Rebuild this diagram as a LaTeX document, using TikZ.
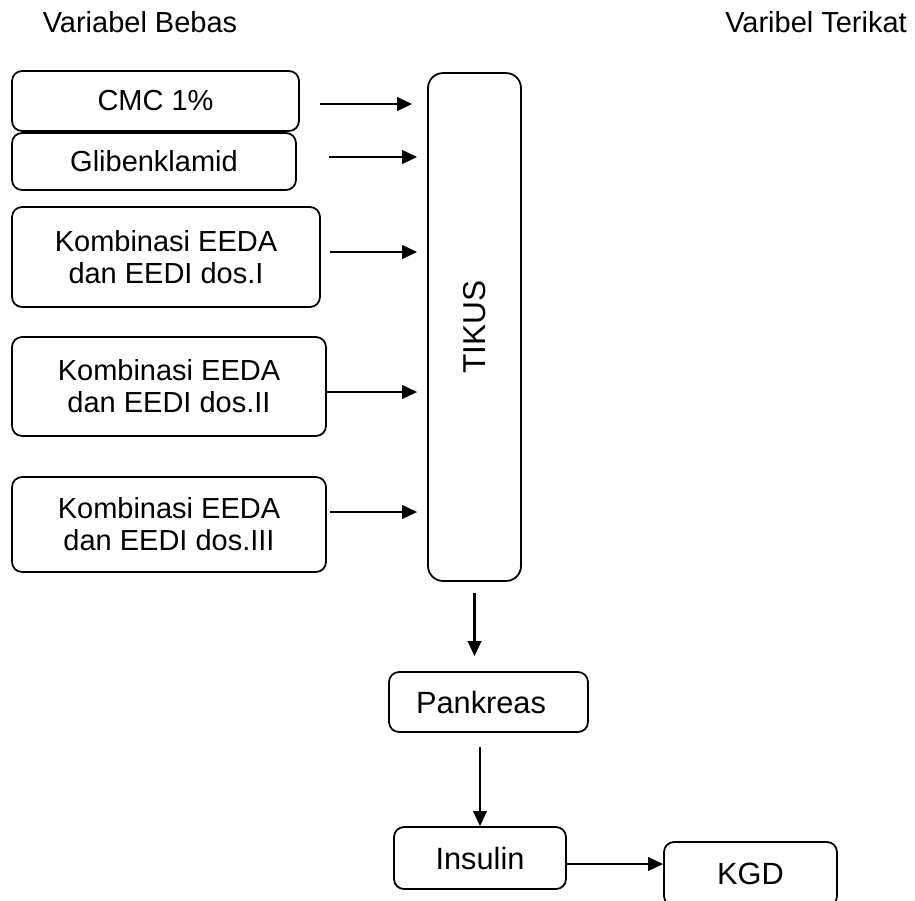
\documentclass[tikz,border=0pt]{standalone}
\usepackage{fontspec}
\setmainfont{Liberation Sans}
\usetikzlibrary{arrows.meta}
\tikzset{
 txt/.style={inner sep=0pt,font=\fontsize{16.5}{18.2}\selectfont},
 box/.style={draw,rounded corners=0.2cm,line width=1pt,align=center,inner sep=0pt,font=\fontsize{16.5}{18.2}\selectfont},
 bigbox/.style={box,font=\fontsize{17.5}{20}\selectfont},
 arr/.style={-{Triangle[length=0.3cm,width=0.27cm]},line width=1.2pt}
}
\begin{document}
\begin{tikzpicture}[x=0.02cm,y=-0.02cm]
 \clip (0,0) rectangle (915,900);
 % headers
 \node[txt] (bebas) at (140,22) {Variabel Bebas};
 \node[txt] (terikat) at (816,22) {Varibel Terikat};
 % treatment groups
 \node[box,minimum width=5.74cm,minimum height=1.2cm] (cmc) at (155.5,101) {CMC 1\%};
 \node[box,minimum width=5.68cm,minimum height=1.14cm] (glib) at (154,161.5) {Glibenklamid};
 \node[box,minimum width=6.16cm,minimum height=2cm] (dosI) at (166,257) {Kombinasi EEDA\\dan EEDI dos.I};
 \node[box,minimum width=6.28cm,minimum height=1.98cm] (dosII) at (169,386.5) {Kombinasi EEDA\\dan EEDI dos.II};
 \node[box,minimum width=6.28cm,minimum height=1.9cm] (dosIII) at (169,524.5) {Kombinasi EEDA\\dan EEDI dos.III};
 \node[box,rounded corners=0.3cm,minimum width=1.86cm,minimum height=10.16cm,font=\fontsize{18}{20}\selectfont] (tikus) at (474.5,327) {\rotatebox{90}{TIKUS}};
 % outcome chain
 \node[bigbox,minimum width=3.98cm,minimum height=1.2cm,text width=3.7cm] (pankreas) at (488.5,702) {\hspace*{-0.3cm}Pankreas};
 \node[bigbox,minimum width=3.44cm,minimum height=1.24cm] (insulin) at (480,858) {Insulin};
 \node[bigbox,minimum width=3.46cm,minimum height=1.28cm] (kgd) at (750.5,874) {KGD};
 % arrows into TIKUS
 \coordinate (a1) at (320,104);
 \coordinate (a2) at (329,157);
 \coordinate (a3) at (330,252);
 \coordinate (a4) at (327,392);
 \coordinate (a5) at (330,512);
 \draw[arr,shorten >=0.3cm] (a1) -- (a1 -| tikus.west);
 \draw[arr,shorten >=0.2cm] (a2) -- (a2 -| tikus.west);
 \draw[arr,shorten >=0.2cm] (a3) -- (a3 -| tikus.west);
 \draw[arr,shorten >=0.2cm] (a4) -- (a4 -| tikus.west);
 \draw[arr,shorten >=0.2cm] (a5) -- (a5 -| tikus.west);
 % down the chain
 \draw[arr,shorten <=0.22cm,shorten >=0.3cm] (tikus.south) -- (tikus.south |- pankreas.north);
 \draw[arr,shorten <=0.28cm] (insulin.north |- pankreas.south) -- (insulin.north);
 \coordinate (a6) at (566,864);
 \draw[arr] (a6) -- (a6 -| kgd.west);
\end{tikzpicture}
\end{document}
